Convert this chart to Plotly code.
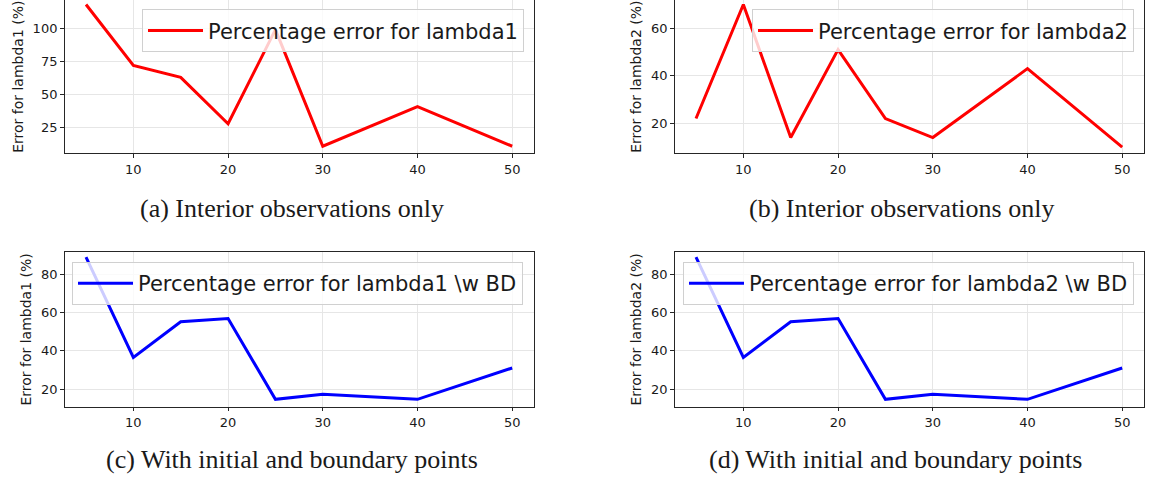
import plotly.graph_objects as go

# ---- data ----
x_vals = [5, 10, 15, 20, 25, 30, 40, 50]
err_lambda1 = [118, 72, 63, 28, 99, 11, 41, 11]
err_lambda2 = [22, 70, 14, 51, 22, 14, 43, 10]
err_lambda1_bd = [89, 36.5, 55.2, 56.9, 14.6, 17.3, 14.6, 31]
err_lambda2_bd = [89, 36.5, 55.2, 56.9, 14.6, 17.3, 14.6, 31]

series_names = [
    "Percentage error for lambda1",
    "Percentage error for lambda2",
    "Percentage error for lambda1 \\w BD",
    "Percentage error for lambda2 \\w BD",
]
y_titles = ["Error for lambda1 (%)", "Error for lambda2 (%)",
            "Error for lambda1 (%)", "Error for lambda2 (%)"]
captions = ["(a) Interior observations only", "(b) Interior observations only",
            "(c) With initial and boundary points", "(d) With initial and boundary points"]
x_ticks = [10, 20, 30, 40, 50]
y_ticks = [[25, 50, 75, 100], [20, 40, 60], [20, 40, 60, 80], [20, 40, 60, 80]]
colors = ["#ff0000", "#ff0000", "#0000ff", "#0000ff"]
series = [err_lambda1, err_lambda2, err_lambda1_bd, err_lambda2_bd]

# ---- layout geometry (pixels) ----
W, H = 1149, 481
px_x = [(64.7, 533.5), (674.7, 1143.5), (64.7, 533.5), (674.7, 1143.5)]
px_y = [(0, 153.3), (0, 153.3), (252.3, 406.5), (252.3, 406.5)]
y_ranges = [[5.68, 121.4], [7.37, 71.9], [10.85, 91.5], [10.85, 91.5]]
legend_pos = [(524, 9.3), (1134, 9.3), (523, 262), (1134, 262)]
caption_pos = [(292, 209), (901, 209), (291.5, 459), (895, 459)]

fig = go.Figure()
axis_color = "#262626"
grid_color = "#e6e6e6"
tick_font = dict(family="DejaVu Sans", size=13, color="#1a1a1a")

layout = dict(width=W, height=H, margin=dict(l=0, r=0, t=0, b=0),
              paper_bgcolor="white", plot_bgcolor="white", annotations=[])

for i in range(4):
    sfx = "" if i == 0 else str(i + 1)
    leg = "legend" if i == 0 else f"legend{i + 1}"
    fig.add_trace(go.Scatter(
        x=x_vals, y=series[i], mode="lines", name=series_names[i],
        line=dict(color=colors[i], width=3),
        xaxis="x" + sfx, yaxis="y" + sfx, legend=leg, showlegend=True))

    x0, x1 = px_x[i]
    yt, yb = px_y[i]
    top_panel = i < 2
    layout["xaxis" + sfx] = dict(
        domain=[x0 / W, x1 / W], anchor="y" + sfx, range=[2.75, 52.25],
        tickvals=x_ticks, ticks="outside", ticklen=3.5, tickwidth=1,
        tickcolor=axis_color, showline=True, linecolor=axis_color, linewidth=1.3,
        mirror=not top_panel, showgrid=True, gridcolor=grid_color, gridwidth=1,
        zeroline=False, tickfont=tick_font)
    layout["yaxis" + sfx] = dict(
        domain=[1 - yb / H, 1 - yt / H], anchor="x" + sfx, range=y_ranges[i],
        tickvals=y_ticks[i], ticks="outside", ticklen=3.5, tickwidth=1,
        tickcolor=axis_color, showline=True, linecolor=axis_color, linewidth=1.3,
        mirror=True, showgrid=True, gridcolor=grid_color, gridwidth=1,
        zeroline=False, tickfont=tick_font,
        title=dict(text=y_titles[i], standoff=5,
                   font=dict(family="DejaVu Sans", size=14, color="#1a1a1a")))
    lx, ly = legend_pos[i]
    layout[leg] = dict(
        x=lx / W, y=1 - ly / H, xanchor="right", yanchor="top",
        xref="paper", yref="paper",
        bgcolor="rgba(255,255,255,0.8)", bordercolor="#d0d0d0", borderwidth=1,
        font=dict(family="DejaVu Sans", size=21, color="#1a1a1a"),
        itemwidth=55)
    cx, cy = caption_pos[i]
    layout["annotations"].append(dict(
        text=captions[i], x=cx / W, y=1 - cy / H, xref="paper", yref="paper",
        xanchor="center", yanchor="middle", showarrow=False,
        font=dict(family="Liberation Serif", size=26, color="#1a1a1a")))

fig.update_layout(**layout)
fig.write_html("out.html")
